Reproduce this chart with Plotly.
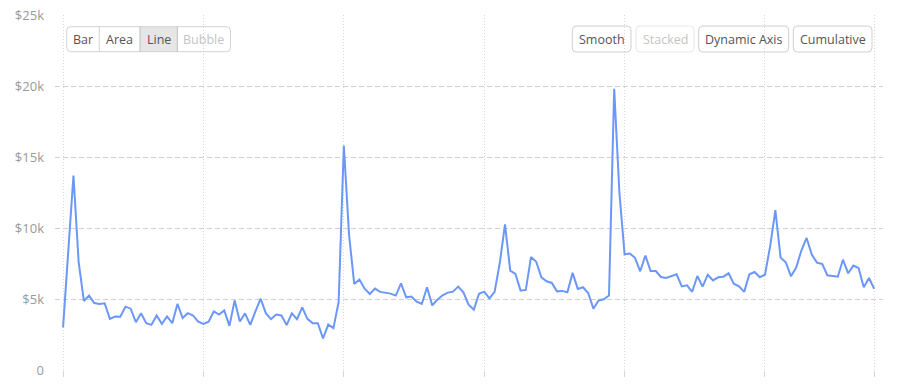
import plotly.graph_objects as go

# ---- data (weekly revenue, USD) ----
weeks = list(range(157))
revenue = [
    3000, 8070, 13700, 7600, 4860, 5240, 4720, 4650, 4700, 3600,
    3770, 3750, 4460, 4320, 3370, 3990, 3300, 3180, 3840, 3250,
    3770, 3300, 4650, 3660, 4000, 3840, 3400, 3250, 3400, 4130,
    3900, 4200, 3110, 4900, 3420, 3990, 3180, 4130, 5020, 4000,
    3580, 3900, 3840, 3160, 3990, 3580, 4410, 3600, 3300, 3300,
    2220, 3200, 2950, 4790, 15800, 9550, 6060, 6370, 5730, 5350,
    5730, 5500, 5450, 5380, 5240, 6100, 5120, 5170, 4810, 4650,
    5830, 4550, 4950, 5260, 5450, 5520, 5870, 5470, 4600, 4250,
    5370, 5520, 5050, 5500, 7550, 10260, 7000, 6770, 5590, 5640,
    7950, 7620, 6530, 6250, 6130, 5540, 5570, 5470, 6840, 5710,
    5830, 5420, 4320, 4900, 4980, 5240, 19800, 12500, 8150, 8200,
    7900, 6950, 8060, 6970, 6970, 6550, 6480, 6620, 6740, 5890,
    5960, 5510, 6620, 5870, 6710, 6310, 6530, 6570, 6810, 6080,
    5890, 5500, 6740, 6900, 6530, 6710, 8720, 11260, 7920, 7590,
    6600, 7210, 8410, 9300, 8130, 7560, 7470, 6670, 6600, 6570,
    7770, 6810, 7350, 7180, 5820, 6480, 5720,
]
y_tick_vals = [0, 5000, 10000, 15000, 20000, 25000]
y_tick_text = ["0", "$5k", "$10k", "$15k", "$20k", "$25k"]
x_tick_vals = [0, 27, 54, 81, 108, 135, 156]

type_buttons = ["Bar", "Area", "Line", "Bubble"]
option_buttons = ["Smooth", "Stacked", "Dynamic Axis", "Cumulative"]

# ---- layout geometry ----
W, H = 904, 385
ML, MR, MT, MB = 55, 21, 15, 15
PW, PH = W - ML - MR, H - MT - MB


def px(x):
    return (x - ML) / PW


def py(y):
    return (H - MB - y) / PH


def rrect(x0, y0, x1, y1, r=4):
    # rounded rectangle path in paper coords from pixel coords
    rx, ry = r / PW, r / PH
    X0, X1 = px(x0), px(x1)
    Yt, Yb = py(y0), py(y1)
    return (f"M{X0+rx},{Yt} L{X1-rx},{Yt} Q{X1},{Yt} {X1},{Yt-ry} "
            f"L{X1},{Yb+ry} Q{X1},{Yb} {X1-rx},{Yb} L{X0+rx},{Yb} "
            f"Q{X0},{Yb} {X0},{Yb+ry} L{X0},{Yt-ry} Q{X0},{Yt} {X0+rx},{Yt} Z")


fig = go.Figure()
fig.add_trace(go.Scatter(
    x=weeks, y=revenue, mode="lines",
    line=dict(color="#6b97f7", width=2),
    hoverinfo="skip",
))

shapes = []
annotations = []
font_family = "Open Sans, Noto Sans, sans-serif"
btn_size = 12.5

# button group: Bar | Area | Line | Bubble
grp_edges = [66.7, 99.3, 140, 177.3, 230.5]
by0, by1 = 26.7, 51.7
shapes.append(dict(type="rect", xref="paper", yref="paper",
                   x0=px(grp_edges[2]), x1=px(grp_edges[3]),
                   y0=py(by1), y1=py(by0),
                   fillcolor="#e6e6e6", line=dict(width=0), layer="above"))
shapes.append(dict(type="path", xref="paper", yref="paper",
                   path=rrect(grp_edges[0], by0, grp_edges[-1], by1),
                   line=dict(color="#d2d2d2", width=1), layer="above"))
for i, e in enumerate(grp_edges[1:-1]):
    col = "#bdbdbd" if i in (1, 2) else "#d2d2d2"
    shapes.append(dict(type="line", xref="paper", yref="paper",
                       x0=px(e), x1=px(e), y0=py(by1), y1=py(by0),
                       line=dict(color=col, width=1), layer="above"))
for i, lab in enumerate(type_buttons):
    cx = (grp_edges[i] + grp_edges[i + 1]) / 2
    annotations.append(dict(
        x=px(cx), y=py((by0 + by1) / 2), xref="paper", yref="paper",
        text=lab, showarrow=False, xanchor="center", yanchor="middle",
        font=dict(family=font_family, size=btn_size,
                  color="#c4c4c4" if lab == "Bubble" else "#555555")))

# option buttons
opt_edges = [(572.3, 631), (636, 694), (698.7, 788.7), (793.3, 872)]
oy0, oy1 = 26, 52
for (x0, x1), lab in zip(opt_edges, option_buttons):
    disabled = lab == "Stacked"
    shapes.append(dict(type="path", xref="paper", yref="paper",
                       path=rrect(x0, oy0, x1, oy1),
                       line=dict(color="#e6e6e6" if disabled else "#cfcfcf", width=1),
                       layer="above"))
    annotations.append(dict(
        x=px((x0 + x1) / 2), y=py((oy0 + oy1) / 2), xref="paper", yref="paper",
        text=lab, showarrow=False, xanchor="center", yanchor="middle",
        font=dict(family=font_family, size=btn_size,
                  color="#c4c4c4" if disabled else "#555555")))

fig.update_layout(
    width=W, height=H,
    margin=dict(l=ML, r=MR, t=MT, b=MB, pad=0, autoexpand=False),
    paper_bgcolor="white", plot_bgcolor="white",
    showlegend=False,
    font=dict(family=font_family),
    shapes=shapes, annotations=annotations,
    xaxis=dict(
        range=[-1.55, 157.7], tickvals=x_tick_vals, showticklabels=False,
        showgrid=True, gridcolor="#d6d6d6", griddash="1px,2px", gridwidth=1,
        ticks="outside", ticklen=6, tickcolor="#d6d6d6",
        zeroline=False, showline=False, fixedrange=True, automargin=False,
    ),
    yaxis=dict(
        range=[0, 25000], tickvals=y_tick_vals, ticktext=y_tick_text,
        showgrid=True, gridcolor="#d0d0d0", griddash="5px,3px", gridwidth=1,
        zeroline=False, showline=False, ticks="",
        ticklabelstandoff=10, automargin=False,
        tickfont=dict(family=font_family, size=13, color="#999999"),
        fixedrange=True,
    ),
)

fig.write_html("out.html")
